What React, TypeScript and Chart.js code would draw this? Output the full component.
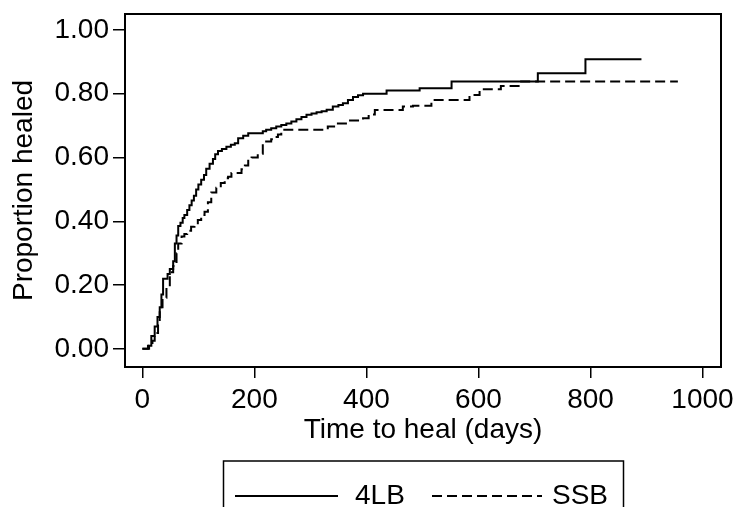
import React, { useEffect, useRef } from "react";
import { Chart, registerables } from "chart.js";

Chart.register(...registerables);

// 4LB Kaplan-Meier style cumulative proportion healed
const TIME_4LB = [0, 10, 16, 22, 27, 31, 34, 37, 45, 49, 55, 58, 61, 64, 68, 72, 75, 80, 84, 88, 92, 96, 100, 105, 110, 114, 120, 126, 130, 135, 142, 150, 158, 165, 171, 180, 189, 215, 221, 230, 239, 248, 257, 266, 275, 284, 293, 302, 311, 320, 329, 340, 350, 358, 367, 376, 385, 394, 436, 495, 552, 706, 791, 891];
const PROP_4LB = [0, 0.01, 0.04, 0.07, 0.10, 0.13, 0.17, 0.22, 0.235, 0.25, 0.275, 0.33, 0.355, 0.385, 0.395, 0.41, 0.42, 0.435, 0.45, 0.465, 0.48, 0.50, 0.515, 0.53, 0.545, 0.565, 0.58, 0.595, 0.61, 0.62, 0.627, 0.634, 0.64, 0.645, 0.66, 0.668, 0.676, 0.682, 0.687, 0.692, 0.697, 0.702, 0.707, 0.713, 0.72, 0.727, 0.734, 0.738, 0.742, 0.745, 0.75, 0.76, 0.765, 0.77, 0.78, 0.79, 0.795, 0.80, 0.81, 0.817, 0.838, 0.864, 0.908, 0.908];

// SSB
const TIME_SSB = [0, 12, 18, 22, 28, 31, 36, 43, 49, 55, 61, 64, 70, 75, 80, 87, 93, 99, 105, 111, 117, 123, 132, 140, 147, 153, 159, 177, 183, 189, 195, 206, 215, 221, 230, 236, 242, 248, 331, 346, 367, 394, 404, 415, 465, 483, 516, 584, 602, 640, 674, 956];
const PROP_SSB = [0, 0.01, 0.025, 0.05, 0.09, 0.13, 0.16, 0.195, 0.24, 0.26, 0.30, 0.33, 0.352, 0.36, 0.37, 0.383, 0.39, 0.404, 0.42, 0.43, 0.46, 0.49, 0.505, 0.52, 0.535, 0.54, 0.551, 0.563, 0.575, 0.59, 0.60, 0.612, 0.643, 0.65, 0.657, 0.664, 0.672, 0.687, 0.697, 0.707, 0.716, 0.723, 0.735, 0.749, 0.76, 0.762, 0.78, 0.796, 0.814, 0.824, 0.838, 0.838];

const SERIES_LABELS = ["4LB", "SSB"];
const X_TICKS = [0, 200, 400, 600, 800, 1000];
const Y_TICKS = [0, 0.2, 0.4, 0.6, 0.8, 1.0];
const X_TITLE = "Time to heal (days)";
const Y_TITLE = "Proportion healed";

const FONT = "'Liberation Sans', Arial, Helvetica, sans-serif";

const framePlugin = {
  id: "frame",
  afterDatasetsDraw(chart: any) {
    const { ctx, chartArea } = chart;
    ctx.save();
    ctx.strokeStyle = "#000";
    ctx.lineWidth = 2;
    ctx.strokeRect(chartArea.left, chartArea.top, chartArea.right - chartArea.left, chartArea.bottom - chartArea.top);
    ctx.restore();
  },
};

const legendBoxPlugin = {
  id: "legendBox",
  afterDraw(chart: any) {
    const { ctx } = chart;
    const ds = chart.data.datasets;
    ctx.save();
    ctx.strokeStyle = "#000";
    ctx.lineWidth = 1.5;
    ctx.strokeRect(223.5, 461, 400, 80);
    const lineY = 496;
    const items = [
      { x0: 235, x1: 338, tx: 355 },
      { x0: 432, x1: 542, tx: 552 },
    ];
    items.forEach((it, i) => {
      ctx.beginPath();
      ctx.lineWidth = 2;
      ctx.setLineDash(ds[i].borderDash || []);
      ctx.moveTo(it.x0, lineY);
      ctx.lineTo(it.x1, lineY);
      ctx.stroke();
      ctx.setLineDash([]);
      ctx.fillStyle = "#000";
      ctx.font = `28px ${FONT}`;
      ctx.textAlign = "left";
      ctx.textBaseline = "alphabetic";
      ctx.fillText(ds[i].label, it.tx, 504);
    });
    ctx.restore();
  },
};

export default function App() {
  const ref = useRef<HTMLCanvasElement>(null);

  useEffect(() => {
    if (!ref.current) return;
    const chart = new Chart(ref.current, {
      type: "line",
      data: {
        datasets: [
          {
            label: SERIES_LABELS[0],
            data: TIME_4LB.map((t, i) => ({ x: t, y: PROP_4LB[i] })),
            borderColor: "#000",
            borderWidth: 2,
            pointRadius: 0,
            stepped: "before",
            fill: false,
          },
          {
            label: SERIES_LABELS[1],
            data: TIME_SSB.map((t, i) => ({ x: t, y: PROP_SSB[i] })),
            borderColor: "#000",
            borderWidth: 2,
            borderDash: [10, 5],
            pointRadius: 0,
            stepped: "before",
            fill: false,
          },
        ],
      },
      options: {
        animation: false,
        responsive: false,
        devicePixelRatio: 1,
        layout: { padding: { top: 14, right: 15, left: 0, bottom: 0 } },
        plugins: {
          legend: { display: false },
          tooltip: { enabled: false },
        },
        scales: {
          x: {
            type: "linear",
            min: -31,
            max: 1033,
            afterFit: (s: any) => {
              s.height = 140;
              s.paddingLeft = 0;
              s.paddingRight = 0;
            },
            afterBuildTicks: (s: any) => {
              s.ticks = X_TICKS.map((v) => ({ value: v }));
            },
            border: { display: false },
            grid: {
              drawOnChartArea: false,
              drawTicks: true,
              tickLength: 11,
              color: "#000",
              lineWidth: 1.5,
            },
            ticks: {
              color: "#000",
              font: { family: FONT, size: 28 },
              padding: 5,
              maxRotation: 0,
              autoSkip: false,
              callback: (v: any) => String(v),
            },
            title: {
              display: true,
              text: X_TITLE,
              color: "#000",
              font: { family: FONT, size: 28 },
              padding: { top: 0, bottom: 60 },
            },
          },
          y: {
            type: "linear",
            min: -0.057,
            max: 1.05,
            afterFit: (s: any) => {
              s.width = 125;
              s.paddingTop = 0;
              s.paddingBottom = 0;
            },
            afterBuildTicks: (s: any) => {
              s.ticks = Y_TICKS.map((v) => ({ value: v }));
            },
            border: { display: false },
            grid: {
              drawOnChartArea: false,
              drawTicks: true,
              tickLength: 12,
              color: "#000",
              lineWidth: 1.5,
            },
            ticks: {
              color: "#000",
              font: { family: FONT, size: 28 },
              padding: 4,
              autoSkip: false,
              callback: (v: any) => Number(v).toFixed(2),
            },
            title: {
              display: true,
              text: Y_TITLE,
              color: "#000",
              font: { family: FONT, size: 28 },
              padding: { top: 7, bottom: 0 },
            },
          },
        },
      },
      plugins: [framePlugin, legendBoxPlugin],
    });
    return () => chart.destroy();
  }, []);

  return (
    <div style={{ position: "absolute", left: 0, top: 0, width: 736, height: 507, background: "#fff" }}>
      <canvas ref={ref} width={736} height={507} style={{ display: "block" }} />
    </div>
  );
}
